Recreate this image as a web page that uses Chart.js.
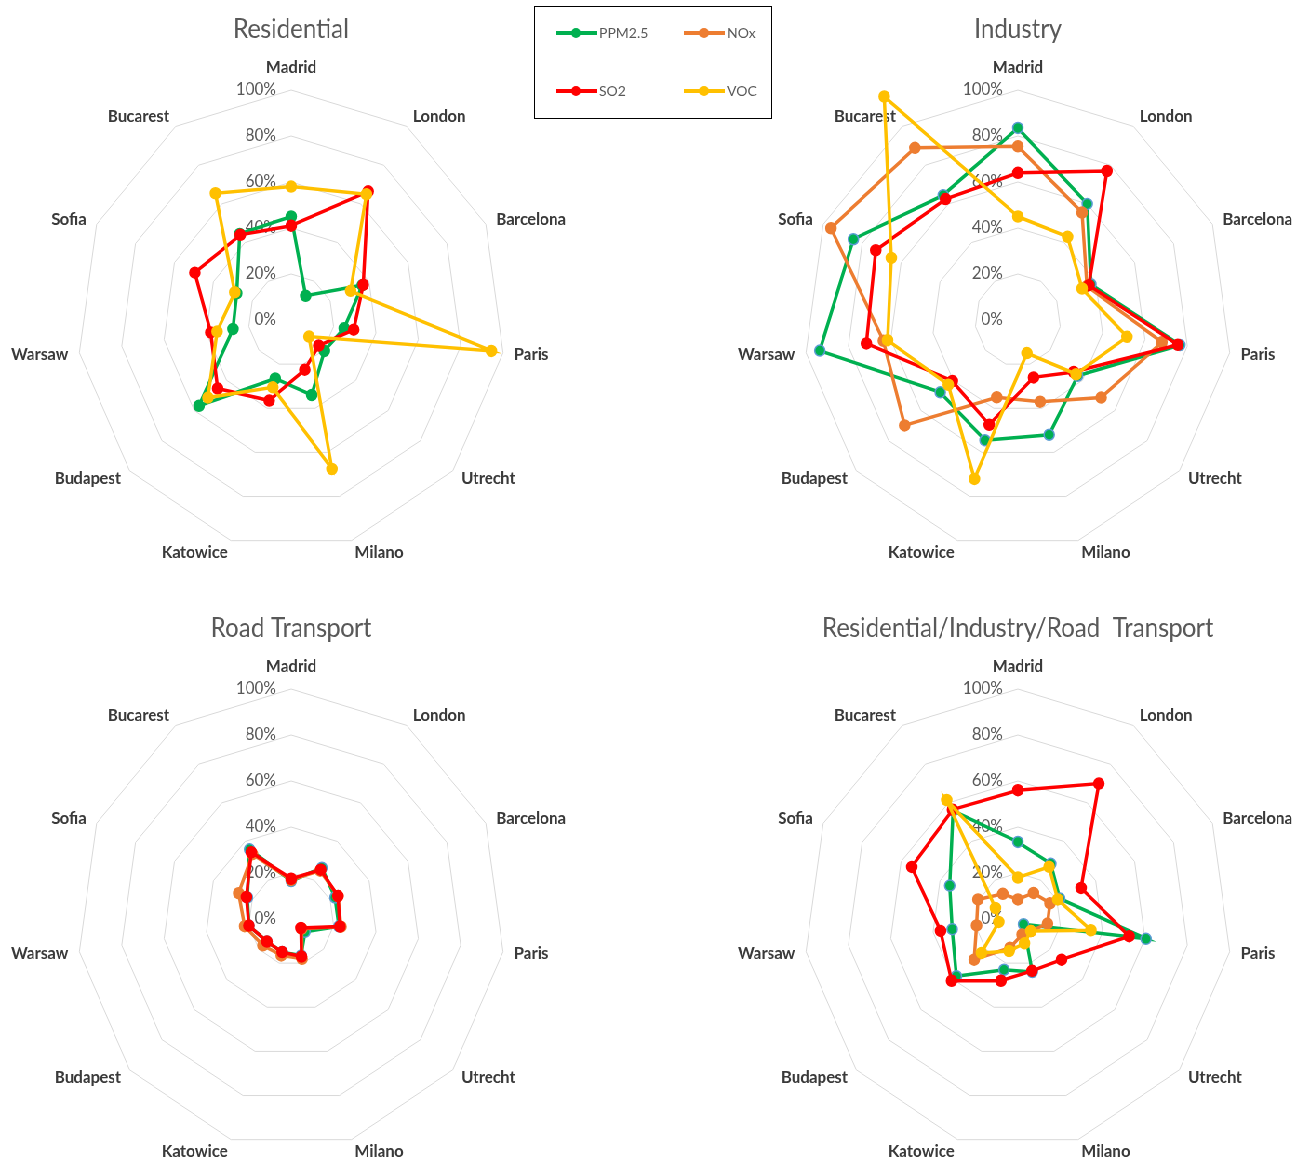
<!DOCTYPE html>
<html>
<head>
<meta charset="utf-8">
<script src="https://cdn.jsdelivr.net/npm/chart.js@4.4.1/dist/chart.umd.min.js"></script>
<style>
  html, body { margin: 0; padding: 0; background: #fff; overflow: hidden; }
  body { width: 1292px; height: 1159px; position: relative; font-family: Lato, sans-serif; }
  /* the source picture is a little narrower than tall, so the whole sheet is squeezed */
  #stage { position: absolute; left: 0; top: 0; width: 1407px; height: 1159px; transform: scaleX(0.9304); transform-origin: 0 0; }
  #stage canvas { position: absolute; }
  #legend { position: absolute; left: 534px; top: 6px; width: 236px; height: 111px; border: 1.5px solid #000; }
  .lg { position: absolute; height: 14px; font-size: 14px; line-height: 14px; color: #595959; }
  .lg i { position: absolute; left: 0; top: 5px; width: 41px; height: 4px; }
  .lg b { position: absolute; left: 15px; top: 2px; width: 10px; height: 10px; border-radius: 50%; }
  .lg span { position: absolute; left: 43px; top: 0; white-space: nowrap; }
</style>
</head>
<body>
<div id="stage">
  <canvas id="cRes" width="626" height="599" style="left:0;top:0"></canvas>
  <canvas id="cInd" width="626" height="599" style="left:781px;top:0"></canvas>
  <canvas id="cRoad" width="626" height="560" style="left:0;top:599px"></canvas>
  <canvas id="cAll" width="626" height="560" style="left:781px;top:599px"></canvas>
</div>
<div id="legend"></div>

<script>
const cities = ["Madrid", "London", "Barcelona", "Paris", "Utrecht", "Milano", "Katowice", "Budapest", "Warsaw", "Sofia", "Bucarest"];

const seriesNames = ["PPM2.5", "NOx", "SO2", "VOC"];
const seriesColors = ["#00b050", "#ed7d31", "#ff0000", "#ffc000"];
const greenEdge = "#5b9bd5";

// Residential (no NOx line in this panel)
const resPM25 = [45, 12.5, 36.5, 25, 20.5, 34, 26.5, 57, 27.5, 28, 44.5];
const resSO2  = [41, 66.5, 37, 29.5, 17, 22.5, 36.5, 45.5, 38, 49.5, 44];
const resVOC  = [58, 65, 30.5, 94.5, 11, 67.5, 30.5, 51.5, 35, 29, 65.5];

// Industry
const indPM25 = [83.5, 60, 37.5, 76.5, 37, 52, 54.5, 48, 93.5, 84.5, 64.5];
const indNOx  = [75.5, 55.5, 35.5, 68, 51.5, 37, 35, 70, 63.5, 96, 89];
const indSO2  = [64, 77, 36.5, 75.5, 34.5, 26, 47.5, 40.5, 71.5, 73, 62.5];
const indVOC  = [45, 43, 33, 51.5, 36, 15, 72, 43, 61.5, 65, 115.5];

// Road Transport (no VOC line in this panel)
const roadPM25 = [16.5, 26.5, 22.5, 22.5, 8.5, 16.5, 15, 15, 20, 22.5, 36];
const roadNOx  = [17, 25, 24, 23.5, 6.5, 18, 16.5, 17.5, 22, 27, 33.5];
const roadSO2  = [17.5, 25.5, 24, 23, 6, 17, 15, 15, 20, 23, 34.5];

// Residential/Industry/Road Transport
const allPM25 = [33.5, 28.5, 21.5, 60.5, 3.5, 24, 23, 38, 31, 35, 56];
const allNOx  = [8.5, 13.5, 16.5, 14, 8, 7, 13, 27, 19.5, 20.5, 13];
const allSO2  = [56, 70, 32.5, 52.5, 27, 23.5, 28, 41, 36.5, 54.5, 56.5];
const allVOC  = [18, 27, 20.5, 34.5, 8, 11, 14.5, 22.5, 9, 11.5, 61.5];

Chart.defaults.font.family = "Lato, 'Open Sans', sans-serif";
Chart.defaults.animation = false;

// Excel-like placement: % ticks left of the top spoke, city names centred on the spoke end
const excelLabels = {
  id: "excelLabels",
  beforeDatasetsDraw(chart) {
    const r = chart.scales.r, ctx = chart.ctx;
    ctx.save();
    ctx.font = "17px Lato";
    ctx.fillStyle = "#595959";
    ctx.textAlign = "right";
    ctx.textBaseline = "middle";
    r.ticks.forEach((t) => {
      ctx.fillText(t.label, r.xCenter - 16, r.yCenter - r.getDistanceFromCenterForValue(t.value));
    });
    ctx.font = "bold 17px Lato";
    ctx.fillStyle = "#3a3a3a";
    chart.data.labels.forEach((name, i) => {
      const p = r.getPointPosition(i, r.drawingArea + 12);
      const s = Math.sin(r.getIndexAngle(i));
      if (Math.abs(s) < 0.01) { ctx.textAlign = "center"; ctx.fillText(name, p.x, p.y - 10); }
      else { ctx.textAlign = s > 0 ? "left" : "right"; ctx.fillText(name, p.x, p.y); }
    });
    ctx.restore();
  },
};

function ds(k, data, edge) {
  const c = seriesColors[k];
  return {
    label: seriesNames[k], data, order: 4 - k,
    borderColor: c, backgroundColor: c, borderWidth: 3.5, fill: false, tension: 0, clip: false,
    pointRadius: 5.5, pointHoverRadius: 5.5, pointBorderWidth: 1.5,
    pointBackgroundColor: c, pointBorderColor: edge || c,
  };
}

function radar(id, title, datasets, bottomPad) {
  return new Chart(document.getElementById(id), {
    type: "radar",
    data: { labels: cities, datasets },
    options: {
      responsive: false,
      layout: { padding: { left: 83, right: 83, top: 0, bottom: bottomPad } },
      plugins: {
        legend: { display: false },
        tooltip: { enabled: false },
        title: {
          display: true, text: title, color: "#595959",
          font: { size: 26, weight: "normal", lineHeight: 1 },
          padding: { top: 17, bottom: 47 },
        },
      },
      scales: {
        r: {
          min: 0, max: 100,
          ticks: { display: false, stepSize: 20, callback: (v) => v + "%" },
          pointLabels: { display: false },
          angleLines: { display: false },
          grid: { color: "#d9d9d9", lineWidth: 1 },
        },
      },
    },
    plugins: [excelLabels],
  });
}

radar("cRes", "Residential", [ds(0, resPM25), ds(2, resSO2), ds(3, resVOC)], 49);
radar("cInd", "Industry", [ds(0, indPM25, greenEdge), ds(1, indNOx), ds(2, indSO2), ds(3, indVOC)], 49);
radar("cRoad", "Road Transport", [ds(0, roadPM25, greenEdge), ds(1, roadNOx), ds(2, roadSO2)], 10);
radar("cAll", "Residential/Industry/Road  Transport", [ds(0, allPM25, greenEdge), ds(1, allNOx), ds(2, allSO2), ds(3, allVOC)], 10);

// legend box (2 x 2)
const lgPos = [[21, 19], [149, 19], [21, 77], [149, 77]];
const lg = document.getElementById("legend");
seriesNames.forEach((n, k) => {
  const d = document.createElement("div");
  d.className = "lg";
  d.style.left = lgPos[k][0] + "px";
  d.style.top = lgPos[k][1] + "px";
  d.innerHTML = '<i style="background:' + seriesColors[k] + '"></i><b style="background:' + seriesColors[k] + '"></b><span>' + n + "</span>";
  lg.appendChild(d);
});
</script>
</body>
</html>
